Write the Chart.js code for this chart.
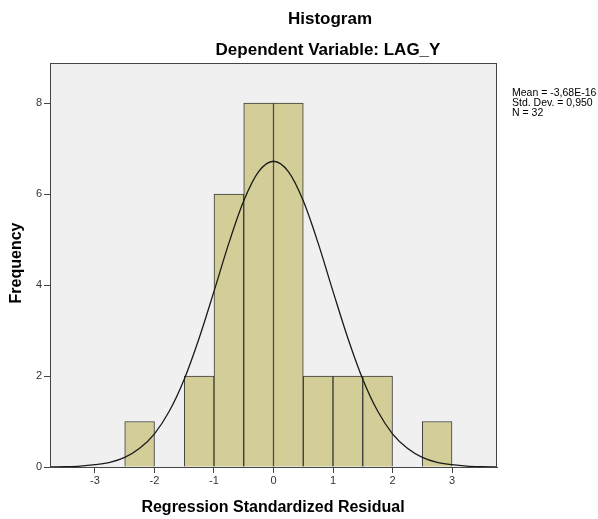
<!DOCTYPE html>
<html>
<head>
<meta charset="utf-8">
<script src="https://cdn.jsdelivr.net/npm/chart.js@4.4.1/dist/chart.umd.min.js"></script>
<style>
  html, body { margin: 0; padding: 0; background: #fff; }
  #wrap { width: 598px; height: 519px; }
</style>
</head>
<body>
<div id="wrap"><canvas id="hist" width="598" height="519"></canvas></div>
<script>
// histogram bins (centers, width 0.5) and counts
const binCenters = [-2.25, -1.75, -1.25, -0.75, -0.25, 0.25, 0.75, 1.25, 1.75, 2.25, 2.75];
const binCounts  = [1, 0, 2, 6, 8, 8, 2, 2, 2, 0, 1];

// normal curve
const curveX = [-3.75, -3.5, -3.25, -3, -2.75, -2.5, -2.25, -2, -1.75, -1.5, -1.25, -1, -0.75, -0.5, -0.25,
                0, 0.25, 0.5, 0.75, 1, 1.25, 1.5, 1.75, 2, 2.25, 2.5, 2.75, 3, 3.25, 3.5, 3.75];
const curveY = [0.003, 0.008, 0.02, 0.05, 0.10, 0.21, 0.41, 0.73, 1.23, 1.93, 2.83, 3.86, 4.92, 5.85, 6.49,
                6.72, 6.49, 5.85, 4.92, 3.86, 2.83, 1.93, 1.23, 0.73, 0.41, 0.21, 0.10, 0.05, 0.02, 0.008, 0.003];

const xTicks = [-3, -2, -1, 0, 1, 2, 3];
const yTicks = [0, 2, 4, 6, 8];
const statLines = ['Mean = -3,68E-16', 'Std. Dev. = 0,950', 'N = 32'];

const FONT = '"Liberation Sans", Arial, sans-serif';

const frame = {
  id: 'frame',
  beforeDraw(chart) {
    const { ctx, chartArea: a } = chart;
    ctx.save();
    ctx.fillStyle = '#f0f0f0';
    ctx.fillRect(a.left, a.top, a.right - a.left, a.bottom - a.top);
    ctx.restore();
  },
  afterDraw(chart) {
    const { ctx, chartArea: a } = chart;
    ctx.save();
    ctx.strokeStyle = '#444';
    ctx.lineWidth = 1;
    ctx.strokeRect(a.left + 0.5, a.top + 0.5, a.right - a.left - 1, a.bottom - a.top);
    ctx.fillStyle = '#000';
    ctx.textAlign = 'center';
    ctx.textBaseline = 'middle';
    ctx.font = 'bold 17px ' + FONT;
    ctx.fillText('Histogram', 330, 19);
    ctx.fillText('Dependent Variable: LAG_Y', 328, 50);
    ctx.font = 'bold 16px ' + FONT;
    ctx.fillText('Regression Standardized Residual', 273, 508);
    ctx.save();
    ctx.translate(17, 263);
    ctx.rotate(-Math.PI / 2);
    ctx.fillText('Frequency', 0, 0);
    ctx.restore();
    ctx.font = '10.5px ' + FONT;
    ctx.textAlign = 'left';
    statLines.forEach((t, i) => ctx.fillText(t, 512, 93 + i * 10));
    ctx.restore();
  }
};

new Chart(document.getElementById('hist'), {
  data: {
    datasets: [
      {
        type: 'line',
        data: curveX.map((x, i) => ({ x, y: curveY[i] })),
        borderColor: '#1a1a1a',
        borderWidth: 1.3,
        pointRadius: 0,
        cubicInterpolationMode: 'monotone',
        fill: false,
        order: 0
      },
      {
        type: 'bar',
        data: binCenters.map((x, i) => ({ x, y: binCounts[i] })),
        backgroundColor: '#d3ce97',
        borderColor: '#3a3a3a',
        borderWidth: 1,
        barPercentage: 1,
        categoryPercentage: 1,
        order: 1
      }
    ]
  },
  options: {
    responsive: false,
    animation: false,
    devicePixelRatio: 1,
    layout: { padding: { left: 0, top: 63, right: 101, bottom: 0 } },
    plugins: { legend: { display: false }, tooltip: { enabled: false } },
    scales: {
      x: {
        type: 'linear',
        offset: false,
        min: -3.756,
        max: 3.756,
        afterFit(s) { s.height = 52; },
        afterBuildTicks(s) { s.ticks = xTicks.map(v => ({ value: v })); },
        ticks: { color: '#333', font: { family: FONT, size: 11 }, padding: 1, maxRotation: 0 },
        grid: { offset: false, drawOnChartArea: false, tickLength: 6, tickColor: '#444' },
        border: { color: '#444' }
      },
      y: {
        min: 0,
        max: 8.88,
        afterFit(s) { s.width = 50; },
        afterBuildTicks(s) { s.ticks = yTicks.map(v => ({ value: v })); },
        ticks: { color: '#333', font: { family: FONT, size: 11 }, padding: 2 },
        grid: { drawOnChartArea: false, tickLength: 6, tickColor: '#444' },
        border: { color: '#444' }
      }
    }
  },
  plugins: [frame]
});
</script>
</body>
</html>
